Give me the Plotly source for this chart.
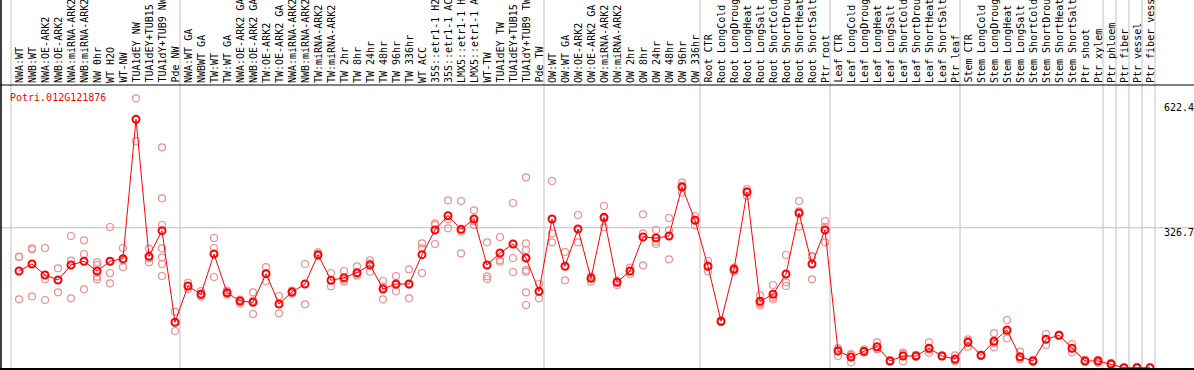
import plotly.graph_objects as go

# ---------------- data ----------------
labels_nw = ["NWA:WT", "NWB:WT", "NWA:OE-ARK2", "NWB:OE-ARK2", "NWA:miRNA-ARK2", "NWB:miRNA-ARK2",
             "NW 0hr", "WT H2O", "WT-NW", "TUA1dEY NW", "TUA1dEY+TUB15 NW", "TUA1dY+TUB9 NW", "Pde NW"]
labels_tw = ["NWA:WT GA", "NWBWT GA", "TW:WT", "TW:WT GA", "NWA:OE-ARK2 GA", "NWB:OE-ARK2 GA",
             "TW:OE-ARK2", "TW:OE-ARK2 GA", "NWA:miRNA-ARK2", "NWB:miRNA-ARK2", "TW:miRNA-ARK2",
             "TW:miRNA-ARK2", "TW 2hr", "TW 8hr", "TW 24hr", "TW 48hr", "TW 96hr", "TW 336hr", "WT ACC",
             "35S::etr1-1 H2O", "35S::etr1-1 ACC", "LMX5::etr1-1 H2O", "LMX5::etr1-1 ACC", "WT-TW",
             "TUA1dEY TW", "TUA1dEY+TUB15 TW", "TUA1dY+TUB9 TW", "Pde TW"]
labels_ow = ["OW:WT", "OW:WT GA", "OW:OE-ARK2", "OW:OE-ARK2 GA", "OW:miRNA-ARK2", "OW:miRNA-ARK2",
             "OW 2hr", "OW 8hr", "OW 24hr", "OW 48hr", "OW 96hr", "OW 336hr"]
labels_root = ["Root CTR", "Root LongCold", "Root LongDrought", "Root LongHeat", "Root LongSalt",
               "Root ShortCold", "Root ShortDrought", "Root ShortHeat", "Root ShortSalt", "Ptr root"]
labels_leaf = ["Leaf CTR", "Leaf LongCold", "Leaf LongDrought", "Leaf LongHeat", "Leaf LongSalt",
               "Leaf ShortCold", "Leaf ShortDrought", "Leaf ShortHeat", "Leaf ShortSalt", "Ptr leaf"]
labels_stem = ["Stem CTR", "Stem LongCold", "Stem LongDrought", "Stem LongHeat", "Stem LongSalt",
               "Stem ShortCold", "Stem ShortDrought", "Stem ShortHeat", "Stem ShortSalt", "Ptr shoot"]
labels_ptr = ["Ptr xylem", "Ptr phloem", "Ptr fiber", "Ptr vessel", "Ptr fiber vessel"]

means_nw = [227.8, 243.8, 218.7, 207.3, 241.6, 250.0, 227.8, 250.0, 256.0, 574.5, 261.4, 320.0, 110.6]
means_tw = [193.6, 174.6, 266.7, 178.2, 159.3, 156.3, 221.7, 152.4, 179.8, 198.1, 265.1, 206.6, 212.5,
            224.0, 241.5, 186.7, 198.1, 198.1, 265.1, 321.5, 354.2, 323.1, 346.7, 241.5, 269.0, 289.5,
            257.5, 181.4]
means_ow = [346.7, 238.6, 323.8, 211.1, 350.5, 202.0, 227.8, 305.5, 303.2, 307.8, 419.8, 343.7]
means_root = [238.6, 112.9, 231.7, 408.4, 158.6, 174.6, 221.0, 360.4, 243.8, 321.5]
means_leaf = [45.0, 31.3, 44.3, 54.8, 22.2, 33.6, 33.6, 51.2, 33.6, 26.7]
means_stem = [64.9, 35.2, 67.2, 93.0, 32.0, 22.2, 71.8, 80.9, 51.2, 22.2]
means_ptr = [22.2, 15.3, 6.9, 6.9, 6.9]

reps_nw = [[260.5, 260.0, 163.0], [279.7, 277.4, 170.0], [280.4, 208.8, 161.6], [234.0, 207.0, 179.2],
           [307.8, 251.4, 165.4], [298.0, 266.7, 186.0], [247.7, 241.5, 214.8, 208.8],
           [328.4, 223.3, 199.7], [280.4, 237.0, 252.0], [622.5, 524.9], [278.8, 256.9, 247.7],
           [510.5, 394.0, 333.0, 279.7, 259.1, 243.8, 216.4], [134.8, 110.6, 90.7]]
reps_tw = [[201.0, 193.0, 186.7], [182.0, 173.0, 169.0], [303.2, 280.4, 214.1], [183.0, 178.0, 174.0],
           [162.3, 159.0, 154.0], [179.2, 160.0, 129.6], [236.5, 221.7, 205.0], [170.7, 152.4, 131.2],
           [183.0, 179.0, 176.0], [243.8, 151.7], [270.6, 262.8, 262.0], [223.3, 192.9],
           [227.8, 207.3, 203.4], [238.6, 217.1, 221.0], [252.3, 226.2, 245.4], [205.0, 163.1, 192.0],
           [216.4, 181.4, 196.0], [231.7, 165.4, 197.0], [291.1, 279.7, 223.3], [336.8, 333.0, 289.5],
           [389.4, 346.0, 325.4], [387.8, 317.6, 268.3], [366.5, 333.0, 341.0], [293.4, 215.7, 209.6],
           [305.5, 249.1, 253.0], [383.2, 257.5, 225.5],
           [441.9, 291.1, 275.8, 230.1, 226.2, 179.2, 150.1], [198.1, 165.4, 180.0]]
reps_ow = [[433.5, 314.0, 293.4], [271.3, 206.6], [355.8, 293.4], [214.8, 203.4, 215.0],
           [376.4, 327.7, 347.0], [205.7, 195.8, 204.0], [235.4, 221.0, 227.0], [357.4, 314.0, 240.9],
           [321.5, 294.8, 289.5], [348.9, 321.5, 254.6], [429.6, 406.8, 423.0], [353.5, 332.3, 345.0]]
reps_root = [[250.7, 227.1, 238.0], [115.0, 111.0], [235.5, 227.5], [415.2, 399.2, 410.0],
             [172.3, 149.5, 154.0], [195.8, 163.1, 167.7], [264.4, 202.0, 193.6], [387.8, 364.3, 329.1],
             [262.1, 208.8, 260.0], [342.1, 293.4, 329.0]]
reps_leaf = [[51.2, 33.6, 50.0], [38.2, 19.2, 36.0], [49.0, 41.0, 43.0], [64.9, 48.9, 50.0],
             [24.0, 22.0, 21.0], [41.1, 21.5, 38.0], [36.0, 32.0, 33.0], [64.9, 41.1, 48.0],
             [35.0, 33.0, 33.0], [35.2, 22.9, 22.0]]
reps_stem = [[71.8, 54.8, 68.0], [36.5, 35.0, 34.0], [85.5, 53.5, 62.5], [115.9, 74.0, 89.0],
             [43.4, 26.0, 27.0], [25.0, 21.0, 21.0], [83.9, 58.7, 73.0], [82.0, 80.0, 81.0],
             [61.0, 42.0, 51.0], [25.0, 21.0, 21.0]]
reps_ptr = [[25.0, 18.0, 23.0], [18.0, 14.0, 14.0], [7.0, 6.0, 7.0], [9.0, 7.0, 7.0], [7.0, 7.0, 7.0]]

gene_name = "Potri.012G121876"
tick_values = [622.4, 326.7, 0]
tick_labels = ["622.4", "326.7", "0"]
separator_after = [-1, 12, 40, 52, 62, 72, 83, 84, 85, 86, 87]

labels = labels_nw + labels_tw + labels_ow + labels_root + labels_leaf + labels_stem + labels_ptr
means = means_nw + means_tw + means_ow + means_root + means_leaf + means_stem + means_ptr
reps = reps_nw + reps_tw + reps_ow + reps_root + reps_leaf + reps_stem + reps_ptr

# ---------------- figure ----------------
W, H = 1194, 370
STEP = 13.0
FONT = "DejaVu Sans Mono"

idx = list(range(len(labels)))
rx, ry = [], []
for i, rv in enumerate(reps):
    for v in rv:
        rx.append(i)
        ry.append(v)

fig = go.Figure()
fig.add_trace(go.Scatter(x=rx, y=ry, mode="markers",
                         marker=dict(symbol="circle-open", size=7, color="#ee8f8f",
                                     line=dict(width=1.2, color="#ee8f8f")),
                         hoverinfo="skip"))
fig.add_trace(go.Scatter(x=idx, y=means, mode="lines+markers",
                         line=dict(color="#ff0000", width=1),
                         marker=dict(symbol="circle-open", size=7, color="#ff0000",
                                     line=dict(width=2, color="#ff0000")),
                         hoverinfo="skip"))

x0 = -19.0 / STEP
x1 = x0 + W / STEP
y_per_px = 1 / 0.4376
ymin = (370.7 - H) * y_per_px
ymax = 370.7 * y_per_px

shapes = []
# vertical group separators
for s in separator_after:
    xs = s + 5.0 / STEP
    shapes.append(dict(type="line", xref="x", yref="paper", x0=xs, x1=xs, y0=0, y1=1,
                       line=dict(color="#c0c0c0", width=1), layer="below"))
# horizontal grid at middle tick
shapes.append(dict(type="line", xref="paper", yref="y", x0=0, x1=1, y0=tick_values[1], y1=tick_values[1],
                   line=dict(color="#c0c0c0", width=1), layer="below"))
# frame lines
shapes.append(dict(type="line", xref="paper", yref="paper", x0=1.0 / W, x1=1.0 / W, y0=0, y1=1,
                   line=dict(color="black", width=1.5)))
shapes.append(dict(type="line", xref="paper", yref="paper", x0=0, x1=1, y0=1 - 85.0 / H, y1=1 - 85.0 / H,
                   line=dict(color="black", width=1)))
shapes.append(dict(type="line", xref="paper", yref="paper", x0=0, x1=1, y0=1 - 369.0 / H, y1=1 - 369.0 / H,
                   line=dict(color="black", width=2)))

annotations = []
for i, lab in enumerate(labels):
    annotations.append(dict(x=i, xref="x", y=1 - 84.0 / H, yref="paper", text=lab, textangle=-90,
                            showarrow=False, xanchor="center", yanchor="bottom", borderpad=0,
                            font=dict(family=FONT, size=10, color="black")))
annotations.append(dict(x=9.0 / W, xref="paper", y=1 - 97.0 / H, yref="paper", text=gene_name,
                        showarrow=False, xanchor="left", yanchor="middle", borderpad=0,
                        font=dict(family=FONT, size=10, color="#ff0000")))
shifts = [-8.7, -4.3, 8.7]
for v, t, sh in zip(tick_values, tick_labels, shifts):
    annotations.append(dict(x=1163.0 / W, xref="paper", y=v, yref="y", text=t, yshift=sh,
                            showarrow=False, xanchor="left", yanchor="middle", borderpad=0,
                            font=dict(family=FONT, size=10, color="black")))

fig.update_layout(
    width=W, height=H,
    margin=dict(l=0, r=0, t=0, b=0, pad=0),
    paper_bgcolor="white", plot_bgcolor="white",
    showlegend=False,
    xaxis=dict(range=[x0, x1], visible=False, showgrid=False, zeroline=False, fixedrange=True),
    yaxis=dict(range=[ymin, ymax], visible=False, showgrid=False, zeroline=False, fixedrange=True),
    shapes=shapes,
    annotations=annotations,
)

fig.write_html("out.html", config={"displayModeBar": False, "staticPlot": True},
               post_script="document.body.style.margin='0';document.body.style.overflow='hidden';")
